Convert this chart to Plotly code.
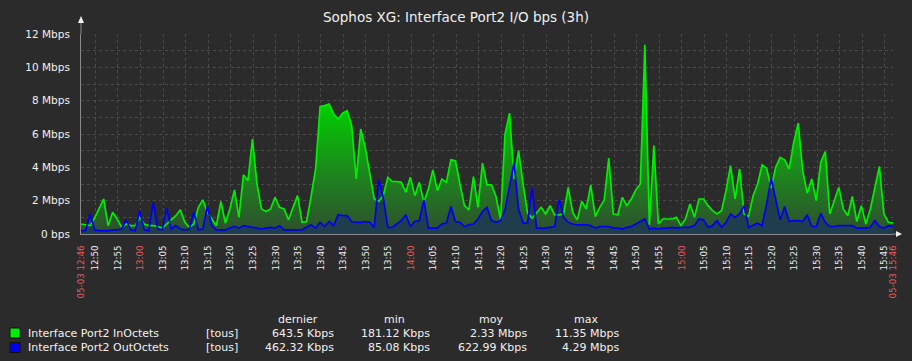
import pandas as pd
import plotly.graph_objects as go

# ---------------- data (Mbps, one sample per minute) ----------------
start_time = "2024-05-03 12:46:50"
end_time = "2024-05-03 15:46:50"

in_octets = [
    0.6, 0.55, 0.5, 0.95, 1.55, 2.1, 0.5, 1.3, 0.9, 0.4,
    0.6, 0.5, 0.5, 1.0, 0.6, 0.5, 0.5, 0.45, 0.35, 0.6,
    0.9, 1.1, 1.45, 0.7, 0.4, 0.6, 1.6, 2.05, 1.3, 0.9,
    0.5, 1.95, 0.65, 1.5, 2.65, 1.0, 3.55, 3.2, 5.7, 3.0,
    1.5, 1.35, 1.5, 2.2, 1.6, 1.5, 0.85, 1.6, 2.3, 0.7,
    0.75, 2.25, 3.9, 7.65, 7.7, 7.8, 7.2, 6.9, 7.25, 7.4,
    6.5, 3.3, 6.3, 5.2, 3.7, 2.1, 1.95, 2.3, 3.4, 3.15,
    3.15, 3.1, 2.5, 3.4, 2.3, 3.1, 1.9, 2.7, 3.85, 2.6,
    3.3, 3.1, 4.45, 4.4, 3.0, 1.7, 1.45, 3.45, 1.6, 4.25,
    2.95, 2.95, 2.25, 0.85, 6.0, 7.25, 3.3, 5.0, 3.0, 1.25,
    0.95, 1.3, 1.6, 1.2, 1.7, 1.15, 1.15, 1.2, 2.8, 1.3,
    0.85, 1.95, 1.5, 2.95, 1.05, 1.6, 2.05, 4.55, 1.2, 1.15,
    2.2, 1.7, 2.1, 2.65, 3.0, 11.35, 0.55, 5.3, 0.6, 0.9,
    0.9, 0.9, 1.0, 0.5, 0.9, 1.8, 1.0, 2.1, 2.1, 1.7,
    1.4, 1.2, 1.4, 2.6, 4.1, 2.1, 3.9, 1.2, 1.05, 2.3,
    3.0, 4.15, 3.95, 2.75, 4.0, 4.6, 4.45, 3.9, 5.5, 6.65,
    3.8, 2.45, 3.3, 2.0, 4.3, 4.95, 1.2, 2.0, 2.8, 1.5,
    1.1, 2.25, 0.75, 1.7, 0.6, 1.5, 2.8, 4.05, 1.2, 0.7,
    0.65,
]

out_octets = [
    0.2, 0.2, 1.2, 0.25, 0.2, 0.2, 0.2, 0.25, 0.25, 0.3,
    0.85, 0.25, 0.2, 1.4, 0.25, 0.2, 1.9, 0.3, 0.25, 1.55,
    0.3, 0.5, 0.3, 0.25, 0.3, 1.3, 0.25, 0.3, 1.65, 0.5,
    0.25, 0.25, 0.25, 0.35, 0.45, 0.35, 0.5, 0.45, 0.4, 0.35,
    0.3, 0.35, 0.4, 0.35, 0.5, 0.25, 0.25, 0.25, 0.25, 0.25,
    0.4, 0.55, 0.35, 0.7, 0.45, 0.75, 0.5, 1.15, 1.1, 1.1,
    0.75, 0.7, 0.7, 0.75, 0.7, 0.4, 3.25, 2.2, 0.4, 0.4,
    0.6, 0.8, 1.15, 0.45, 0.75, 0.8, 2.05, 0.35, 0.35, 0.35,
    0.6, 0.65, 1.65, 0.75, 0.7, 0.45, 0.55, 0.6, 0.9, 1.35,
    1.6, 0.8, 0.7, 0.8, 1.45, 2.85, 4.29, 1.5, 0.65, 0.65,
    2.75, 0.35, 0.35, 0.35, 0.4, 0.45, 2.05, 1.0, 0.7, 0.6,
    0.55, 0.55, 0.55, 0.5, 0.35, 0.45, 0.45, 0.45, 0.35, 0.35,
    0.3, 0.4, 0.45, 0.6, 0.75, 0.9, 0.3, 0.35, 0.3, 0.35,
    0.35, 0.4, 0.35, 0.4, 0.4, 0.4, 0.5, 0.9, 0.85, 0.4,
    0.5, 0.8, 0.4, 0.7, 1.2, 1.0, 1.2, 1.7, 0.4, 0.55,
    0.65, 0.5, 1.8, 3.35, 2.05, 0.85, 1.65, 0.75, 0.8, 0.8,
    0.75, 1.15, 0.45, 0.45, 1.25, 0.7, 0.45, 0.45, 0.5, 0.5,
    0.5, 0.5, 0.35, 0.35, 0.35, 0.4, 0.8, 0.45, 0.35, 0.5,
    0.46,
]

series_names = ["Interface Port2 InOctets", "Interface Port2 OutOctets"]
series_scope = ["[tous]", "[tous]"]
stat_headers = ["dernier", "min", "moy", "max"]
stats_last = ["643.5 Kbps", "462.32 Kbps"]
stats_min = ["181.12 Kbps", "85.08 Kbps"]
stats_avg = ["2.33 Mbps", "622.99 Kbps"]
stats_max = ["11.35 Mbps", "4.29 Mbps"]

y_tick_values = [0, 2, 4, 6, 8, 10, 12]
y_tick_labels = ["0 bps", "2 Mbps", "4 Mbps", "6 Mbps", "8 Mbps", "10 Mbps", "12 Mbps"]
period_start_label = "05-03 12:46"
period_end_label = "05-03 15:46"

title_text = "Sophos XG: Interface Port2 I/O bps (3h)"

# ---------------- styling ----------------
BG = "#2b2b2b"
GRID = "#4a4a4a"
TEXT = "#f0f0f0"
RED = "#e35d5d"
GREEN = "#00ee00"
BLUE = "#0000ee"
FONT = "DejaVu Sans"

W, H = 912, 361
L, R, T, B = 81, 19, 34, 127
PW, PH = W - L - R, H - T - B


def px(x):
    return (x - L) / PW


def py(y):
    return (H - B - y) / PH


def red(s):
    return '<span style="color:%s">%s</span>' % (RED, s)


times = pd.date_range(start_time, periods=len(in_octets), freq="min")

# x ticks every 5 minutes, plus period ends
t0 = pd.Timestamp(start_time)
t1 = pd.Timestamp(end_time)
tick_vals = [t0]
tick_text = [red(period_start_label)]
t = pd.Timestamp("2024-05-03 12:50:00")
while t < t1:
    lab = t.strftime("%H:%M")
    tick_vals.append(t)
    tick_text.append(red(lab) if t.minute == 0 else lab)
    t += pd.Timedelta(minutes=5)
tick_vals.append(t1)
tick_text.append(red(period_end_label))

fig = go.Figure()

# filled areas
fig.add_trace(go.Scatter(
    x=times, y=in_octets, mode="lines", line=dict(width=0, color=GREEN),
    fill="tozeroy",
    fillgradient=dict(type="vertical", start=0, stop=8,
                      colorscale=[[0, "#2f4d2f"], [0.45, "#1d861d"], [1, "#00d200"]]),
    hoverinfo="skip", showlegend=False))
fig.add_trace(go.Scatter(
    x=times, y=out_octets, mode="lines", line=dict(width=0, color=BLUE),
    fill="tozeroy", fillcolor="#1f3e4d", hoverinfo="skip", showlegend=False))
# lines
fig.add_trace(go.Scatter(
    x=times, y=in_octets, mode="lines", line=dict(width=1.7, color=GREEN),
    name=series_names[0], showlegend=False))
fig.add_trace(go.Scatter(
    x=times, y=out_octets, mode="lines", line=dict(width=1.7, color=BLUE),
    name=series_names[1], showlegend=False))

fig.update_layout(
    width=W, height=H,
    margin=dict(l=L, r=R, t=T, b=B, autoexpand=False),
    paper_bgcolor=BG, plot_bgcolor=BG,
    font=dict(family=FONT, color=TEXT, size=11),
    title=dict(text=title_text, x=0.5, xref="container", xanchor="center",
               y=1 - 17 / H, yref="container", yanchor="middle",
               font=dict(family=FONT, size=13.5, color=TEXT)),
    showlegend=False,
    template="none",
)

fig.update_xaxes(
    type="date",
    range=[t0 - pd.Timedelta(seconds=1), t1 + pd.Timedelta(seconds=1)],
    tickmode="array", tickvals=tick_vals, ticktext=tick_text,
    tickangle=-90, tickfont=dict(family=FONT, size=8.7, color=TEXT),
    showgrid=True, gridcolor=GRID, gridwidth=1, griddash="3px,3px",
    showline=True, linecolor="#8a8a8a", linewidth=1,
    ticks="outside", ticklen=7, tickcolor="rgba(0,0,0,0)",
    zeroline=False, automargin=False, fixedrange=True,
)
fig.update_yaxes(
    range=[0, 12],
    tickmode="array", tickvals=y_tick_values, ticktext=y_tick_labels,
    tickfont=dict(family=FONT, size=10.5, color=TEXT),
    showgrid=True, gridcolor=GRID, gridwidth=1, griddash="3px,3px",
    minor=dict(dtick=1, showgrid=True, gridcolor=GRID, griddash="3px,3px", tick0=0),
    showline=True, linecolor="#8a8a8a", linewidth=1,
    ticks="outside", ticklen=8, tickcolor="rgba(0,0,0,0)",
    zeroline=False, automargin=False, fixedrange=True,
)

# axis extensions and arrow heads (decoration)
shapes = [
    dict(type="line", xref="paper", yref="paper", x0=0, x1=0, y0=1, y1=py(22),
         line=dict(color="#8a8a8a", width=1)),
    dict(type="line", xref="paper", yref="paper", x0=1, x1=px(896), y0=0, y1=0,
         line=dict(color="#8a8a8a", width=1)),
    dict(type="path", xref="paper", yref="paper",
         path="M %f %f L %f %f L %f %f Z" % (px(78), py(23), px(84), py(23), px(81), py(16)),
         fillcolor="#f0f0f0", line=dict(width=0)),
    dict(type="path", xref="paper", yref="paper",
         path="M %f %f L %f %f L %f %f Z" % (px(896), py(231), px(896), py(237), px(902), py(234)),
         fillcolor="#f0f0f0", line=dict(width=0)),
]

# legend table
annotations = []
row_y = [333, 347.5]
head_y = 319
head_x = [298, 394.5, 491, 585.5]
col_right = [336, 432, 529, 621]
for hx, h in zip(head_x, stat_headers):
    annotations.append(dict(x=px(hx), y=py(head_y), xref="paper", yref="paper", text=h,
                            showarrow=False, xanchor="center", yanchor="middle",
                            font=dict(family=FONT, size=11, color=TEXT)))
colors = [GREEN, BLUE]
for i in range(2):
    shapes.append(dict(type="rect", xref="paper", yref="paper",
                       x0=px(10), x1=px(20), y0=py(row_y[i] - 5), y1=py(row_y[i] + 5),
                       fillcolor=colors[i], line=dict(color="#111111", width=1)))
    annotations.append(dict(x=px(26), y=py(row_y[i]), xref="paper", yref="paper",
                            text=series_names[i], showarrow=False, xanchor="left",
                            yanchor="middle", font=dict(family=FONT, size=11, color=TEXT)))
    annotations.append(dict(x=px(204), y=py(row_y[i]), xref="paper", yref="paper",
                            text=series_scope[i], showarrow=False, xanchor="left",
                            yanchor="middle", font=dict(family=FONT, size=11, color=TEXT)))
    for cx, vals in zip(col_right, [stats_last, stats_min, stats_avg, stats_max]):
        annotations.append(dict(x=px(cx), y=py(row_y[i]), xref="paper", yref="paper",
                                text=vals[i], showarrow=False, xanchor="right",
                                yanchor="middle", font=dict(family=FONT, size=11, color=TEXT)))

fig.update_layout(shapes=shapes, annotations=annotations)

fig.write_html(
    "out.html",
    config={"displayModeBar": False, "staticPlot": True},
    post_script="document.body.style.margin='0';document.body.style.background='%s';" % BG,
)
